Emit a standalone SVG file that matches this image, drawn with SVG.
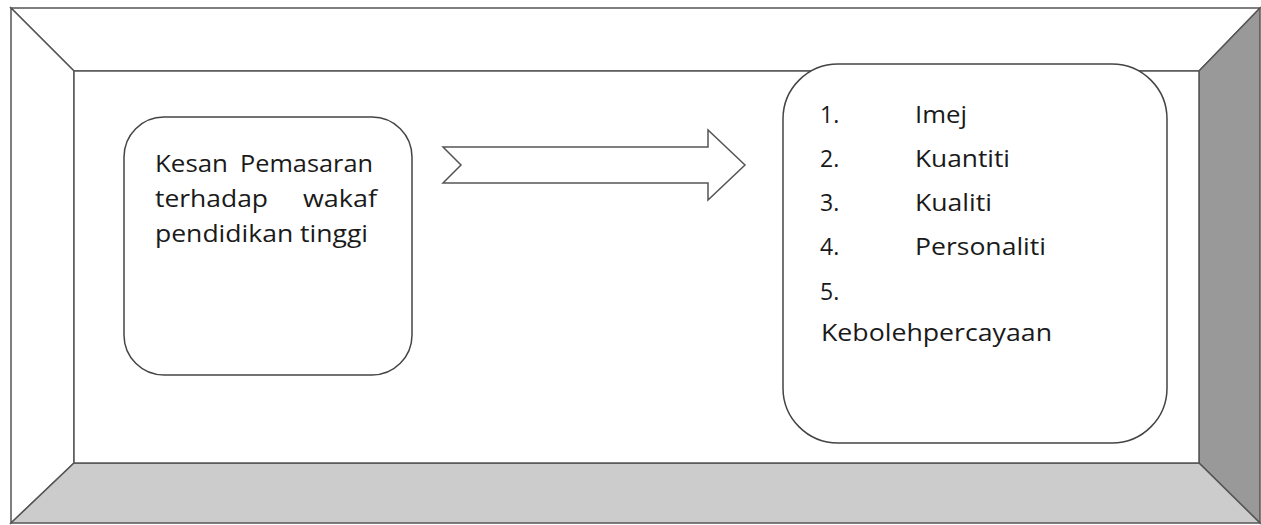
<svg xmlns="http://www.w3.org/2000/svg" width="1261" height="525" viewBox="0 0 1261 525">
<style>
.edge{stroke:#555;stroke-width:1.5;stroke-linejoin:miter}
.box{fill:#fff;stroke:#444;stroke-width:1.5}
.t{font-family:"Open Sans","Liberation Sans",sans-serif;font-size:23px;fill:#1a1a1a}
</style>
<g id="frame">
<polygon points="11,8 1260,8 1199,71 74,71" fill="#fff" class="edge"/>
<polygon points="11,8 74,71 74,463 11,523" fill="#fff" class="edge"/>
<polygon points="1260,8 1260,523 1199,463 1199,71" fill="#999" class="edge"/>
<polygon points="11,523 74,463 1199,463 1260,523" fill="#ccc" class="edge"/>
<rect x="74" y="71" width="1125" height="392" fill="#fff" class="edge"/>
</g>
<g id="node-left">
<rect x="124" y="117" width="288" height="258" rx="40" ry="40" class="box"/>
<text class="t" x="155" y="172" textLength="73" lengthAdjust="spacingAndGlyphs">Kesan</text>
<text class="t" x="240" y="172" textLength="133" lengthAdjust="spacingAndGlyphs">Pemasaran</text>
<text class="t" x="155" y="207" textLength="113" lengthAdjust="spacingAndGlyphs">terhadap</text>
<text class="t" x="303" y="207" textLength="74" lengthAdjust="spacingAndGlyphs">wakaf</text>
<text class="t" x="155" y="242" textLength="213" lengthAdjust="spacingAndGlyphs">pendidikan tinggi</text>
</g>
<g id="connectors">
<polygon points="443,147 708,147 708,130 745,165 708,200 708,183 443,183 461,165" fill="#fff" stroke="#555" stroke-width="1.5"/>
</g>
<g id="node-right">
<rect x="783" y="64" width="384" height="379" rx="55" ry="55" class="box"/>
<text class="t" x="820" y="123">1.</text><text class="t" x="915" y="123" textLength="52" lengthAdjust="spacingAndGlyphs">Imej</text>
<text class="t" x="820" y="167">2.</text><text class="t" x="915" y="167" textLength="95" lengthAdjust="spacingAndGlyphs">Kuantiti</text>
<text class="t" x="820" y="211">3.</text><text class="t" x="915" y="211" textLength="77" lengthAdjust="spacingAndGlyphs">Kualiti</text>
<text class="t" x="820" y="255">4.</text><text class="t" x="915" y="255" textLength="131" lengthAdjust="spacingAndGlyphs">Personaliti</text>
<text class="t" x="820" y="300">5.</text>
<text class="t" x="821" y="341" textLength="231" lengthAdjust="spacingAndGlyphs">Kebolehpercayaan</text>
</g>
</svg>
